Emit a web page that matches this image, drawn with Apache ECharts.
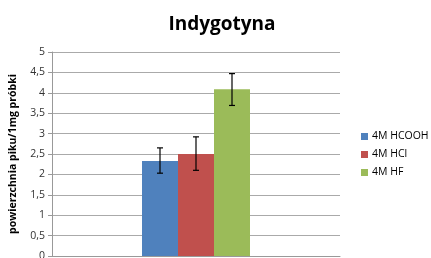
<!DOCTYPE html>
<html>
<head>
<meta charset="utf-8">
<script src="https://cdn.jsdelivr.net/npm/echarts@6/dist/echarts.min.js"></script>
<style>
  html, body { margin: 0; padding: 0; background: #fff; }
  #chart { width: 431px; height: 258px; }
</style>
</head>
<body>
<div id="chart"></div>
<script>
// dane
var categories = [''];
var seriesNames = ['4M HCOOH', '4M HCl', '4M HF'];
var seriesValues = [2.33, 2.5, 4.09];
var errLow = [2.03, 2.1, 3.69];
var errHigh = [2.65, 2.92, 4.47];
var colors = ['#4F81BD', '#C0504D', '#9BBB59'];

var barW = 36;

var myChart = echarts.init(document.getElementById('chart'));

var series = [];
for (var i = 0; i < seriesNames.length; i++) {
    series.push({
        name: seriesNames[i],
        type: 'bar',
        barWidth: barW,
        barGap: '0%',
        itemStyle: { color: colors[i] },
        data: [seriesValues[i]]
    });
}

// slupki bledow
var errData = [];
for (var j = 0; j < seriesNames.length; j++) {
    errData.push([0, errLow[j], errHigh[j], j]);
}
series.push({
    type: 'custom',
    name: 'err',
    z: 10,
    renderItem: function (params, api) {
        var idx = api.value(3);
        var lo = api.coord([api.value(0), api.value(1)]);
        var hi = api.coord([api.value(0), api.value(2)]);
        var off = (idx - 1) * barW;
        var x = lo[0] + off;
        var cap = 3;
        var st = { stroke: '#000', lineWidth: 1.2 };
        return {
            type: 'group',
            children: [
                { type: 'line', shape: { x1: x, y1: hi[1], x2: x, y2: lo[1] }, style: st },
                { type: 'line', shape: { x1: x - cap, y1: hi[1], x2: x + cap, y2: hi[1] }, style: st },
                { type: 'line', shape: { x1: x - cap, y1: lo[1], x2: x + cap, y2: lo[1] }, style: st }
            ]
        };
    },
    encode: { x: 0, y: [1, 2] },
    data: errData
});

var option = {
    animation: false,
    title: {
        text: 'Indygotyna',
        left: 217,
        textAlign: 'center',
        top: 10,
        textStyle: { fontFamily: 'Open Sans', fontSize: 19, fontWeight: 'bold', color: '#000' }
    },
    legend: {
        orient: 'vertical',
        left: 356,
        top: 126,
        itemWidth: 7,
        itemHeight: 7,
        itemGap: 7,
        icon: 'rect',
        data: seriesNames,
        textStyle: { fontFamily: 'Open Sans', fontSize: 10.5, color: '#000', padding: [0, 0, 0, -1] }
    },
    grid: { left: 52, right: 91, top: 52, bottom: 2, outerBoundsMode: 'none' },
    xAxis: {
        type: 'category',
        data: categories,
        axisLine: { lineStyle: { color: '#999' } },
        axisTick: { show: false },
        axisLabel: { show: false }
    },
    yAxis: {
        type: 'value',
        min: 0,
        max: 5,
        interval: 0.5,
        name: 'powierzchnia piku/1mg próbki',
        nameLocation: 'middle',
        nameRotate: 90,
        nameGap: 33,
        nameTextStyle: { fontFamily: 'Open Sans', fontSize: 10.5, fontWeight: 'bold', color: '#000' },
        axisLine: { show: true, lineStyle: { color: '#999' } },
        axisTick: { show: true, length: 4, lineStyle: { color: '#999' } },
        axisLabel: {
            fontFamily: 'Open Sans', fontSize: 10.5, color: '#333', margin: 7,
            formatter: function (v) { return String(v).replace('.', ','); }
        },
        splitLine: { lineStyle: { color: '#aaa', width: 1 } }
    },
    series: series
};

myChart.setOption(option);
</script>
</body>
</html>
